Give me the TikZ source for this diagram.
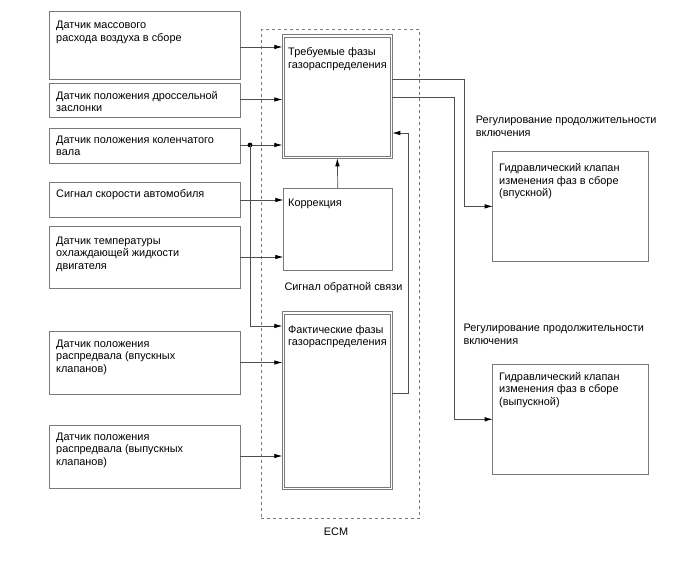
\documentclass[tikz,border=0pt]{standalone}
\usepackage{fontspec}
\setmainfont{Liberation Sans}
\usetikzlibrary{arrows.meta,calc}
\definecolor{boxc}{HTML}{7A7A7A}
\definecolor{linec}{HTML}{505050}
\begin{document}
\begin{tikzpicture}[x=1pt,y=-1pt,
  box/.style={draw=boxc, line width=0.8pt, anchor=north west, inner sep=0pt, outer sep=0pt},
  inner/.style={draw=boxc, line width=0.7pt},
  txt/.style={anchor=north west, inner sep=0pt, align=left, font=\fontsize{10.9}{12.5}\selectfont},
  conn/.style={draw=linec, line width=0.7pt},
  arr/.style={conn, -{Latex[length=8pt,width=4.5pt,color=black]}}]
\useasboundingbox (0,0) rectangle (688,560);
% ECM
\node[draw=boxc, line width=0.7pt, dash pattern=on 3pt off 3pt, anchor=north west, inner sep=0pt,
      minimum width=158.3pt, minimum height=489pt] (ecm) at (261,29.3) {};
\node[font=\fontsize{10.9}{12}\selectfont, inner sep=0pt] (ecmlab) at (336,532) {ECM};
% sensors
\node[box, minimum width=191pt, minimum height=68pt] (b1) at (49,11) {};
\node[box, minimum width=191pt, minimum height=34pt] (b2) at (49,83) {};
\node[box, minimum width=191pt, minimum height=35pt] (b3) at (49,128) {};
\node[box, minimum width=191pt, minimum height=35pt] (b4) at (49,182.5) {};
\node[box, minimum width=191pt, minimum height=62pt] (b5) at (49,226) {};
\node[box, minimum width=191pt, minimum height=63pt] (b6) at (49,331) {};
\node[box, minimum width=191pt, minimum height=62.6pt] (b7) at (49,425.7) {};
\node[txt] (t1) at (56,21) {Датчик массового\\расхода воздуха в сборе};
\node[txt] (t2) at (56,91) {Датчик положения дроссельной\\заслонки};
\node[txt] (t3) at (56,135.3) {Датчик положения коленчатого\\вала};
\node[txt] (t4) at (56,189.3) {Сигнал скорости автомобиля};
\node[txt] (t5) at (56,236.7) {Датчик температуры\\охлаждающей жидкости\\двигателя};
\node[txt] (t6) at (56,339.3) {Датчик положения\\распредвала (впускных\\клапанов)};
\node[txt] (t7) at (56,432.7) {Датчик положения\\распредвала (выпускных\\клапанов)};
% ECM blocks
\node[box, minimum width=110pt, minimum height=123.6pt] (req) at (282.3,34.7) {};
\draw[inner] ($(req.north west)+(2.4,2.4)$) rectangle ($(req.south east)+(-2.4,-2.4)$);
\node[box, minimum width=109pt, minimum height=81.7pt] (korr) at (283.3,188.3) {};
\node[box, minimum width=110pt, minimum height=177.6pt] (fact) at (282.3,311.7) {};
\draw[inner] ($(fact.north west)+(2.4,2.4)$) rectangle ($(fact.south east)+(-2.4,-2.4)$);
\node[txt] (treq) at (288,47.7) {Требуемые фазы\\газораспределения};
\node[txt] (tkorr) at (288,199) {Коррекция};
\node[txt] (tfact) at (288,325.3) {Фактические фазы\\газораспределения};
\node[txt] (sig) at (284.3,282) {Сигнал обратной связи};
% valves
\node[box, minimum width=155.6pt, minimum height=110.7pt] (v1) at (492.7,151) {};
\node[box, minimum width=155.6pt, minimum height=110pt] (v2) at (492.7,364.3) {};
\node[txt] (tv1) at (499,163.3) {Гидравлический клапан\\изменения фаз в сборе\\(впускной)};
\node[txt] (tv2) at (499,372) {Гидравлический клапан\\изменения фаз в сборе\\(выпускной)};
\node[txt] (lab1) at (475.7,116) {Регулирование продолжительности\\включения};
\node[txt] (lab2) at (463.3,324) {Регулирование продолжительности\\включения};
% connectors
\draw[arr] (b1.east |- 0,47) -- (req.west |- 0,47);
\draw[arr] (b2.east |- 0,99.5) -- (req.west |- 0,99.5);
\draw[arr] (b3.east |- 0,145) -- (req.west |- 0,145);
\coordinate (j) at (250,145);
\fill[black] (j) circle (2.4pt);
\draw[arr] (j) |- (fact.west |- 0,326);
\draw[arr] (b4.east |- 0,200) -- (korr.west |- 0,200);
\draw[arr] (b5.east |- 0,257) -- (korr.west |- 0,257);
\draw[arr] (b6.east |- 0,362.5) -- (fact.west |- 0,362.5);
\draw[arr] (b7.east |- 0,456) -- (fact.west |- 0,456);
\draw[arr] (korr.north) -- (req.south);
\draw[arr] (fact.east |- 0,393) -- (408,393) -- (408,133) -- (req.east |- 0,133);
\draw[arr] (req.east |- 0,79) -- (464,79) |- (v1.west);
\draw[arr] (req.east |- 0,97) -- (454,97) |- (v2.west);
\end{tikzpicture}
\end{document}
